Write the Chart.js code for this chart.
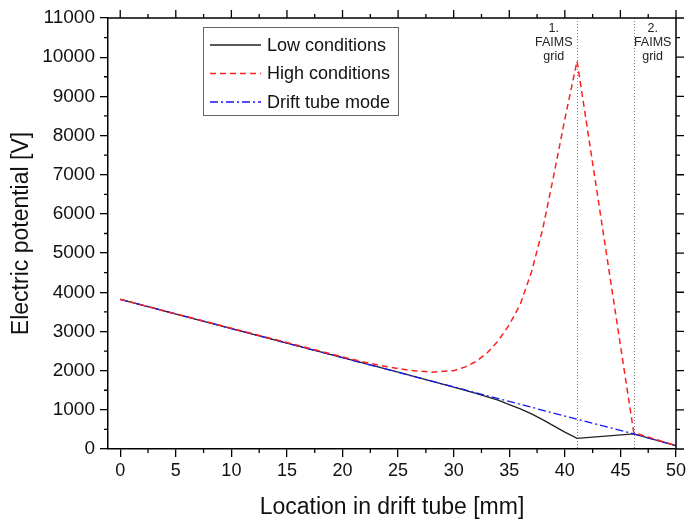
<!DOCTYPE html>
<html>
<head>
<meta charset="utf-8">
<script src="https://cdn.jsdelivr.net/npm/chart.js@4.4.1/dist/chart.umd.min.js"></script>
<style>
  body { margin: 0; background: #fff; }
  canvas { display: block; }
</style>
</head>
<body>
<canvas id="potentialchart" width="689" height="523"></canvas>
<script>
// values
const lowX = [0, 10, 20, 25, 28, 30, 32, 34, 35, 36, 37, 38, 39, 40, 41.1, 46.2, 50];
const lowY = [3820, 3075, 2330, 1960, 1735, 1580, 1420, 1245, 1135, 1025, 895, 750, 590, 430, 270, 385, 85];

const highX = [0, 10, 20, 22, 24, 26, 28, 30, 31, 32, 33, 34, 35, 36, 37, 38, 39, 40, 41.1, 46.2, 50];
const highY = [3820, 3080, 2350, 2215, 2100, 2010, 1960, 2000, 2090, 2230, 2450, 2760, 3170, 3700, 4520, 5600, 6980, 8420, 9900, 420, 85];

const driftX = [0, 10, 20, 30, 41.1, 46.2, 50];
const driftY = [3820, 3075, 2330, 1585, 760, 385, 85];

const xTicks = [0, 5, 10, 15, 20, 25, 30, 35, 40, 45, 50];
const yTicks = [0, 1000, 2000, 3000, 4000, 5000, 6000, 7000, 8000, 9000, 10000, 11000];
const xMinor = [2.5, 7.5, 12.5, 17.5, 22.5, 27.5, 32.5, 37.5, 42.5, 47.5];
const yMinor = [500, 1500, 2500, 3500, 4500, 5500, 6500, 7500, 8500, 9500, 10500];

const gridX = [41.1, 46.2];
const gridLabelX = [39.0, 47.9];
const gridLabels = [['1.', 'FAIMS', 'grid'], ['2.', 'FAIMS', 'grid']];

const FONT = "'Liberation Sans', Arial, sans-serif";

function pts(xs, ys) {
    return xs.map((x, i) => ({x: x, y: ys[i]}));
}

const potentialdata = {
    datasets: [{
        label: 'Low conditions',
        data: pts(lowX, lowY),
        borderColor: '#222222',
        borderWidth: 1.3,
        borderDash: [],
        order: 2
    }, {
        label: 'High conditions',
        data: pts(highX, highY),
        borderColor: '#ff2020',
        borderWidth: 1.5,
        borderDash: [6, 4],
        order: 0
    }, {
        label: 'Drift tube mode',
        data: pts(driftX, driftY),
        borderColor: '#1515ff',
        borderWidth: 1.3,
        borderDash: [8, 3, 2, 3],
        order: 1
    }]
};

// dotted grid markers, labels, mirrored frame, minor ticks, legend
const framePlugin = {
    id: 'frame',
    beforeDatasetsDraw(chart) {
        const ctx = chart.ctx;
        const area = chart.chartArea;
        const xs = chart.scales.x;
        ctx.save();
        ctx.strokeStyle = '#808080';
        ctx.lineWidth = 1;
        ctx.setLineDash([1, 2]);
        gridX.forEach(v => {
            const px = Math.round(xs.getPixelForValue(v)) + 0.5;
            ctx.beginPath();
            ctx.moveTo(px, area.top);
            ctx.lineTo(px, area.bottom);
            ctx.stroke();
        });
        ctx.setLineDash([]);
        ctx.fillStyle = '#222';
        ctx.font = '12.5px ' + FONT;
        ctx.textAlign = 'center';
        ctx.textBaseline = 'middle';
        gridLabels.forEach((lines, i) => {
            const px = xs.getPixelForValue(gridLabelX[i]);
            lines.forEach((t, j) => ctx.fillText(t, px, area.top + 11 + j * 14));
        });
        ctx.restore();
    },
    afterDraw(chart) {
        const ctx = chart.ctx;
        const area = chart.chartArea;
        const xs = chart.scales.x;
        const ys = chart.scales.y;
        ctx.save();
        ctx.strokeStyle = '#000';
        ctx.lineWidth = 1.5;
        ctx.beginPath();
        ctx.moveTo(area.left, area.top);
        ctx.lineTo(area.right, area.top);
        ctx.lineTo(area.right, area.bottom);
        ctx.stroke();

        ctx.lineWidth = 1.3;
        ctx.beginPath();
        xTicks.forEach(v => {
            const px = xs.getPixelForValue(v);
            ctx.moveTo(px, area.top);
            ctx.lineTo(px, area.top - 8);
        });
        xMinor.forEach(v => {
            const px = xs.getPixelForValue(v);
            ctx.moveTo(px, area.top);
            ctx.lineTo(px, area.top - 4);
            ctx.moveTo(px, area.bottom);
            ctx.lineTo(px, area.bottom + 4);
        });
        yTicks.forEach(v => {
            const py = ys.getPixelForValue(v);
            ctx.moveTo(area.right, py);
            ctx.lineTo(area.right + 8, py);
        });
        yMinor.forEach(v => {
            const py = ys.getPixelForValue(v);
            ctx.moveTo(area.right, py);
            ctx.lineTo(area.right + 4, py);
            ctx.moveTo(area.left, py);
            ctx.lineTo(area.left - 4, py);
        });
        ctx.stroke();

        // legend box
        const bx = 203, by = 27, bw = 195, bh = 88;
        ctx.fillStyle = '#fff';
        ctx.fillRect(bx, by, bw, bh);
        ctx.strokeStyle = '#666';
        ctx.lineWidth = 1;
        ctx.strokeRect(bx + 0.5, by + 0.5, bw, bh);
        ctx.font = '18px ' + FONT;
        ctx.textAlign = 'left';
        ctx.textBaseline = 'middle';
        chart.data.datasets.forEach((ds, i) => {
            const yy = 45 + i * 28.5;
            ctx.strokeStyle = ds.borderColor;
            ctx.lineWidth = ds.borderWidth;
            ctx.setLineDash(ds.borderDash);
            ctx.beginPath();
            ctx.moveTo(210, yy);
            ctx.lineTo(261, yy);
            ctx.stroke();
            ctx.setLineDash([]);
            ctx.fillStyle = '#111';
            ctx.fillText(ds.label, 267, yy + 1);
        });
        ctx.restore();
    }
};

const potentialconfig = {
    type: 'line',
    data: potentialdata,
    options: {
        responsive: false,
        animation: false,
        events: [],
        layout: {
            padding: {top: 18, right: 11, left: 0, bottom: 0}
        },
        elements: {
            point: {radius: 0},
            line: {tension: 0, fill: false}
        },
        scales: {
            x: {
                type: 'linear',
                min: -1.1,
                max: 50,
                afterFit: s => { s.height = 74; },
                afterBuildTicks: s => { s.ticks = xTicks.map(v => ({value: v})); },
                border: {display: true, color: '#000', width: 1.5},
                grid: {drawOnChartArea: false, drawTicks: true, tickLength: 8, color: '#000', lineWidth: 1.3},
                ticks: {
                    color: '#111',
                    padding: 3,
                    maxRotation: 0,
                    font: {family: FONT, size: 18}
                },
                title: {
                    display: true,
                    text: 'Location in drift tube [mm]',
                    color: '#111',
                    font: {family: FONT, size: 23, lineHeight: 1.2},
                    padding: {top: 0, bottom: 2}
                }
            },
            y: {
                min: 0,
                max: 11000,
                afterFit: s => { s.width = 108; },
                afterBuildTicks: s => { s.ticks = yTicks.map(v => ({value: v})); },
                border: {display: true, color: '#000', width: 1.5},
                grid: {drawOnChartArea: false, drawTicks: true, tickLength: 8, color: '#000', lineWidth: 1.3},
                ticks: {
                    color: '#111',
                    padding: 5,
                    font: {family: FONT, size: 19},
                    callback: v => String(v)
                },
                title: {
                    display: true,
                    text: 'Electric potential [V]',
                    color: '#111',
                    font: {family: FONT, size: 23, lineHeight: 1.2},
                    padding: {top: 8, bottom: 0}
                }
            }
        },
        plugins: {
            legend: {display: false},
            tooltip: {enabled: false}
        }
    },
    plugins: [framePlugin]
};

const potentialchart = new Chart(
    document.getElementById('potentialchart'),
    potentialconfig
);
</script>
</body>
</html>
